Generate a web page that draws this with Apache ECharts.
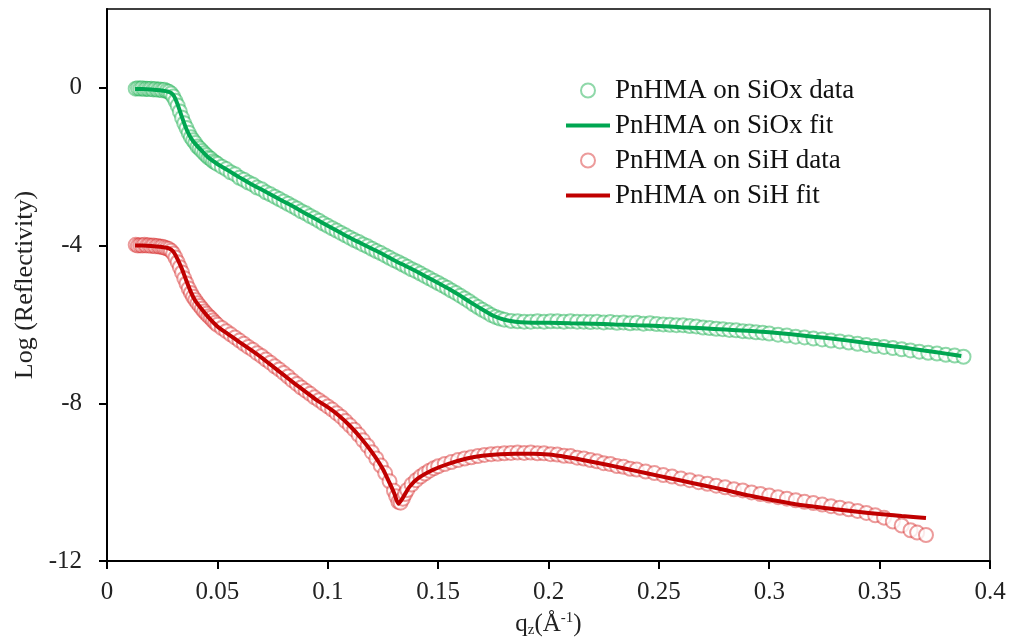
<!DOCTYPE html>
<html>
<head>
<meta charset="utf-8">
<script src="https://cdn.jsdelivr.net/npm/echarts@6/dist/echarts.min.js"></script>
<style>html,body{margin:0;padding:0;background:#fff}#c{width:1015px;height:644px}</style>
</head>
<body>
<div id="c"></div>
<script>
// ---- Data ----
var seriesNames = ['PnHMA on SiOx data', 'PnHMA on SiOx fit', 'PnHMA on SiH data', 'PnHMA on SiH fit'];
var yTickValues = [-12, -8, -4, 0];

var siOxDataQ = [0.013,0.014,0.015,0.016,0.017,0.018,0.019,0.020,0.021,0.022,0.023,0.024,0.025,0.026,0.027,0.028,0.029,0.030,0.031,0.032,0.033,0.034,0.035,0.036,0.037,0.038,0.039,0.040,0.041,0.042,0.043,0.044,0.045,0.046,0.047,0.048,0.049,0.050,0.052,0.054,0.056,0.058,0.060,0.062,0.064,0.066,0.068,0.070,0.072,0.074,0.076,0.078,0.080,0.082,0.084,0.086,0.088,0.090,0.092,0.094,0.096,0.098,0.100,0.102,0.104,0.106,0.108,0.110,0.112,0.114,0.116,0.118,0.120,0.122,0.124,0.126,0.128,0.130,0.132,0.134,0.136,0.138,0.140,0.142,0.144,0.146,0.148,0.150,0.152,0.154,0.156,0.158,0.160,0.162,0.164,0.166,0.168,0.170,0.172,0.174,0.176,0.178,0.180,0.183,0.186,0.189,0.192,0.195,0.198,0.201,0.204,0.207,0.210,0.213,0.216,0.219,0.222,0.225,0.228,0.231,0.234,0.237,0.240,0.243,0.246,0.249,0.252,0.255,0.258,0.261,0.264,0.267,0.270,0.273,0.276,0.279,0.282,0.285,0.288,0.291,0.294,0.297,0.300,0.304,0.308,0.312,0.316,0.320,0.324,0.328,0.332,0.336,0.340,0.344,0.348,0.352,0.356,0.360,0.364,0.368,0.372,0.376,0.380,0.384,0.388];
var siOxDataR = [-0.02,-0.01,-0.02,-0.01,-0.03,-0.02,-0.03,-0.02,-0.04,-0.03,-0.05,-0.04,-0.06,-0.05,-0.08,-0.10,-0.14,-0.22,-0.33,-0.45,-0.60,-0.76,-0.90,-1.02,-1.14,-1.25,-1.33,-1.40,-1.49,-1.54,-1.60,-1.66,-1.71,-1.77,-1.80,-1.86,-1.89,-1.93,-2.00,-2.06,-2.14,-2.19,-2.28,-2.33,-2.40,-2.45,-2.53,-2.57,-2.65,-2.70,-2.76,-2.82,-2.88,-2.94,-3.00,-3.06,-3.13,-3.18,-3.25,-3.31,-3.37,-3.44,-3.50,-3.56,-3.62,-3.68,-3.74,-3.80,-3.86,-3.91,-3.97,-4.02,-4.08,-4.14,-4.19,-4.25,-4.31,-4.37,-4.42,-4.48,-4.54,-4.60,-4.65,-4.71,-4.77,-4.83,-4.89,-4.95,-5.01,-5.07,-5.14,-5.20,-5.27,-5.34,-5.41,-5.49,-5.56,-5.63,-5.69,-5.76,-5.81,-5.85,-5.88,-5.91,-5.92,-5.93,-5.93,-5.92,-5.93,-5.92,-5.92,-5.93,-5.92,-5.93,-5.93,-5.94,-5.93,-5.95,-5.94,-5.96,-5.95,-5.97,-5.96,-5.98,-5.97,-5.99,-6.00,-6.01,-6.02,-6.02,-6.04,-6.05,-6.08,-6.09,-6.11,-6.12,-6.14,-6.15,-6.17,-6.18,-6.20,-6.21,-6.23,-6.26,-6.28,-6.31,-6.33,-6.36,-6.38,-6.41,-6.43,-6.46,-6.49,-6.52,-6.55,-6.57,-6.60,-6.63,-6.66,-6.69,-6.72,-6.74,-6.77,-6.79,-6.82];

var siOxFitQ = [0.0127,0.016,0.020,0.024,0.028,0.030,0.032,0.034,0.036,0.038,0.040,0.043,0.046,0.050,0.055,0.060,0.065,0.070,0.075,0.080,0.085,0.090,0.095,0.100,0.105,0.110,0.115,0.120,0.125,0.130,0.135,0.140,0.145,0.150,0.155,0.160,0.165,0.170,0.175,0.180,0.185,0.190,0.200,0.210,0.220,0.230,0.240,0.250,0.260,0.270,0.280,0.290,0.300,0.310,0.320,0.330,0.340,0.350,0.360,0.370,0.380,0.387];
var siOxFitR = [-0.03,-0.03,-0.04,-0.06,-0.10,-0.18,-0.42,-0.75,-1.05,-1.27,-1.42,-1.60,-1.77,-1.93,-2.10,-2.27,-2.43,-2.58,-2.73,-2.88,-3.03,-3.19,-3.34,-3.50,-3.65,-3.80,-3.94,-4.08,-4.22,-4.37,-4.51,-4.65,-4.80,-4.95,-5.10,-5.27,-5.45,-5.62,-5.78,-5.88,-5.93,-5.95,-5.96,-5.97,-5.98,-6.00,-6.02,-6.04,-6.07,-6.10,-6.13,-6.16,-6.20,-6.25,-6.31,-6.37,-6.44,-6.51,-6.58,-6.66,-6.74,-6.80];

var siHDataQ = [0.013,0.014,0.015,0.016,0.017,0.018,0.019,0.020,0.021,0.022,0.023,0.024,0.025,0.026,0.027,0.028,0.029,0.030,0.031,0.032,0.033,0.034,0.035,0.036,0.037,0.038,0.039,0.040,0.041,0.042,0.043,0.044,0.045,0.046,0.047,0.048,0.049,0.050,0.052,0.054,0.056,0.058,0.060,0.062,0.064,0.066,0.068,0.070,0.072,0.074,0.076,0.078,0.080,0.082,0.084,0.086,0.088,0.090,0.092,0.094,0.096,0.098,0.100,0.102,0.104,0.106,0.108,0.110,0.112,0.114,0.116,0.118,0.120,0.122,0.124,0.126,0.128,0.130,0.131,0.132,0.133,0.134,0.135,0.136,0.138,0.140,0.142,0.144,0.146,0.148,0.150,0.153,0.156,0.159,0.162,0.165,0.168,0.171,0.174,0.177,0.180,0.183,0.186,0.189,0.192,0.195,0.198,0.201,0.204,0.207,0.210,0.213,0.216,0.219,0.222,0.225,0.228,0.231,0.234,0.237,0.240,0.244,0.248,0.252,0.256,0.260,0.264,0.268,0.272,0.276,0.280,0.284,0.288,0.292,0.296,0.300,0.304,0.308,0.312,0.316,0.320,0.324,0.328,0.332,0.336,0.340,0.344,0.348,0.352,0.356,0.360,0.364,0.367,0.371];
var siHDataR = [-3.98,-4.00,-3.99,-4.00,-3.98,-4.00,-3.99,-4.01,-4.00,-4.02,-4.01,-4.03,-4.03,-4.05,-4.07,-4.09,-4.13,-4.20,-4.30,-4.42,-4.55,-4.68,-4.83,-4.96,-5.09,-5.20,-5.30,-5.38,-5.46,-5.53,-5.60,-5.67,-5.73,-5.79,-5.84,-5.90,-5.96,-6.01,-6.09,-6.17,-6.25,-6.33,-6.41,-6.49,-6.57,-6.64,-6.73,-6.80,-6.89,-6.97,-7.06,-7.14,-7.23,-7.32,-7.42,-7.51,-7.60,-7.68,-7.76,-7.85,-7.92,-8.00,-8.08,-8.16,-8.25,-8.34,-8.45,-8.56,-8.67,-8.80,-8.94,-9.08,-9.24,-9.40,-9.58,-9.77,-9.98,-10.22,-10.36,-10.50,-10.52,-10.42,-10.30,-10.20,-10.06,-9.95,-9.86,-9.78,-9.71,-9.65,-9.60,-9.54,-9.49,-9.44,-9.40,-9.37,-9.34,-9.31,-9.29,-9.28,-9.27,-9.26,-9.25,-9.26,-9.25,-9.27,-9.27,-9.29,-9.30,-9.33,-9.34,-9.38,-9.40,-9.44,-9.47,-9.52,-9.54,-9.59,-9.61,-9.66,-9.68,-9.73,-9.77,-9.82,-9.86,-9.91,-9.95,-10.00,-10.04,-10.09,-10.13,-10.18,-10.21,-10.26,-10.30,-10.34,-10.38,-10.42,-10.46,-10.50,-10.53,-10.57,-10.61,-10.65,-10.69,-10.73,-10.78,-10.84,-10.90,-11.00,-11.10,-11.22,-11.28,-11.34];

var siHFitQ = [0.0127,0.016,0.020,0.024,0.028,0.030,0.032,0.034,0.036,0.038,0.040,0.043,0.046,0.050,0.055,0.060,0.065,0.070,0.075,0.080,0.085,0.090,0.095,0.100,0.105,0.110,0.115,0.120,0.125,0.128,0.130,0.132,0.134,0.137,0.141,0.148,0.155,0.163,0.170,0.178,0.185,0.193,0.200,0.208,0.215,0.223,0.230,0.240,0.250,0.260,0.270,0.280,0.290,0.300,0.310,0.320,0.330,0.340,0.350,0.360,0.371];
var siHFitR = [-4.00,-4.00,-4.01,-4.03,-4.07,-4.15,-4.35,-4.60,-4.90,-5.18,-5.40,-5.62,-5.82,-6.05,-6.25,-6.45,-6.64,-6.84,-7.06,-7.28,-7.50,-7.71,-7.92,-8.10,-8.31,-8.57,-8.88,-9.24,-9.67,-10.02,-10.27,-10.55,-10.40,-10.12,-9.90,-9.68,-9.53,-9.40,-9.33,-9.29,-9.28,-9.28,-9.30,-9.36,-9.43,-9.52,-9.60,-9.72,-9.84,-9.96,-10.08,-10.20,-10.33,-10.44,-10.54,-10.62,-10.69,-10.75,-10.81,-10.86,-10.91];

function pairs(xs, ys) { var out = []; for (var i = 0; i < xs.length; i++) out.push([xs[i], ys[i]]); return out; }

var FONT = '"Liberation Serif", "Times New Roman", serif';
// thin horizontal bar icon (invisible corner points keep the bar 4px thick in a 14px-high box)
var LINE_ICON = 'path://M0,0L0.01,0L0,0.01Z M0,5L44,5L44,9L0,9Z M44,14L43.99,14L44,13.99Z';
var chart = echarts.init(document.getElementById('c'), null, {renderer: 'canvas'});
chart.setOption({
  backgroundColor: '#fff',
  animation: false,
  grid: {left: 107, right: 25, top: 9, bottom: 83, show: true, borderColor: '#000', borderWidth: 1.5, backgroundColor: 'transparent'},
  legend: {
    data: [
      {name: seriesNames[0]},
      {name: seriesNames[1], icon: LINE_ICON},
      {name: seriesNames[2]},
      {name: seriesNames[3], icon: LINE_ICON}
    ],
    orient: 'vertical', left: 561, top: 72,
    itemWidth: 44, itemHeight: 14, itemGap: 8,
    textStyle: {fontFamily: FONT, fontSize: 27, color: '#111', lineHeight: 27}
  },
  xAxis: {
    type: 'value', min: 0, max: 0.4, interval: 0.05,
    splitLine: {show: false},
    axisLine: {onZero: false, lineStyle: {color: '#000', width: 2}},
    axisTick: {inside: false, length: 8, lineStyle: {color: '#000', width: 2}},
    axisLabel: {fontFamily: FONT, fontSize: 25, color: '#222', margin: 19},
    name: '{n|q}{s|z}{n|(Å}{p|-1}{n|)}',
    nameLocation: 'middle', nameGap: 50,
    nameTextStyle: {
      fontFamily: FONT, color: '#222',
      rich: {
        n: {fontFamily: FONT, fontSize: 25, color: '#222'},
        s: {fontFamily: FONT, fontSize: 15, color: '#222', verticalAlign: 'bottom', padding: [12,0,0,0]},
        p: {fontFamily: FONT, fontSize: 15, color: '#222', verticalAlign: 'top', padding: [0,0,10,0]}
      }
    }
  },
  yAxis: {
    type: 'value', min: -12, max: 2, interval: 4,
    splitLine: {show: false},
    axisLine: {onZero: false, lineStyle: {color: '#000', width: 2}},
    axisTick: {inside: false, length: 8, lineStyle: {color: '#000', width: 2}, customValues: yTickValues},
    axisLabel: {fontFamily: FONT, fontSize: 25, color: '#222', margin: 25, customValues: yTickValues},
    name: 'Log (Reflectivity)', nameLocation: 'middle', nameGap: 60,
    nameTextStyle: {fontFamily: FONT, fontSize: 26, color: '#222'}
  },
  series: [
    {
      name: seriesNames[0], type: 'scatter', symbol: 'emptyCircle', symbolSize: 14,
      itemStyle: {color: 'rgba(40,180,90,0.65)', borderColor: 'rgba(40,180,90,0.65)', borderWidth: 1},
      data: pairs(siOxDataQ, siOxDataR), z: 2
    },
    {
      name: seriesNames[1], type: 'line', showSymbol: false, symbol: 'none', smooth: 0.2,
      lineStyle: {color: '#00A651', width: 4}, itemStyle: {color: '#00A651'},
      data: pairs(siOxFitQ, siOxFitR), z: 3
    },
    {
      name: seriesNames[2], type: 'scatter', symbol: 'emptyCircle', symbolSize: 14,
      itemStyle: {color: 'rgba(215,45,45,0.6)', borderColor: 'rgba(215,45,45,0.6)', borderWidth: 1},
      data: pairs(siHDataQ, siHDataR), z: 2
    },
    {
      name: seriesNames[3], type: 'line', showSymbol: false, symbol: 'none', smooth: 0.2,
      lineStyle: {color: '#C00000', width: 4}, itemStyle: {color: '#C00000'},
      data: pairs(siHFitQ, siHFitR), z: 3
    }
  ]
});
</script>
</body>
</html>
